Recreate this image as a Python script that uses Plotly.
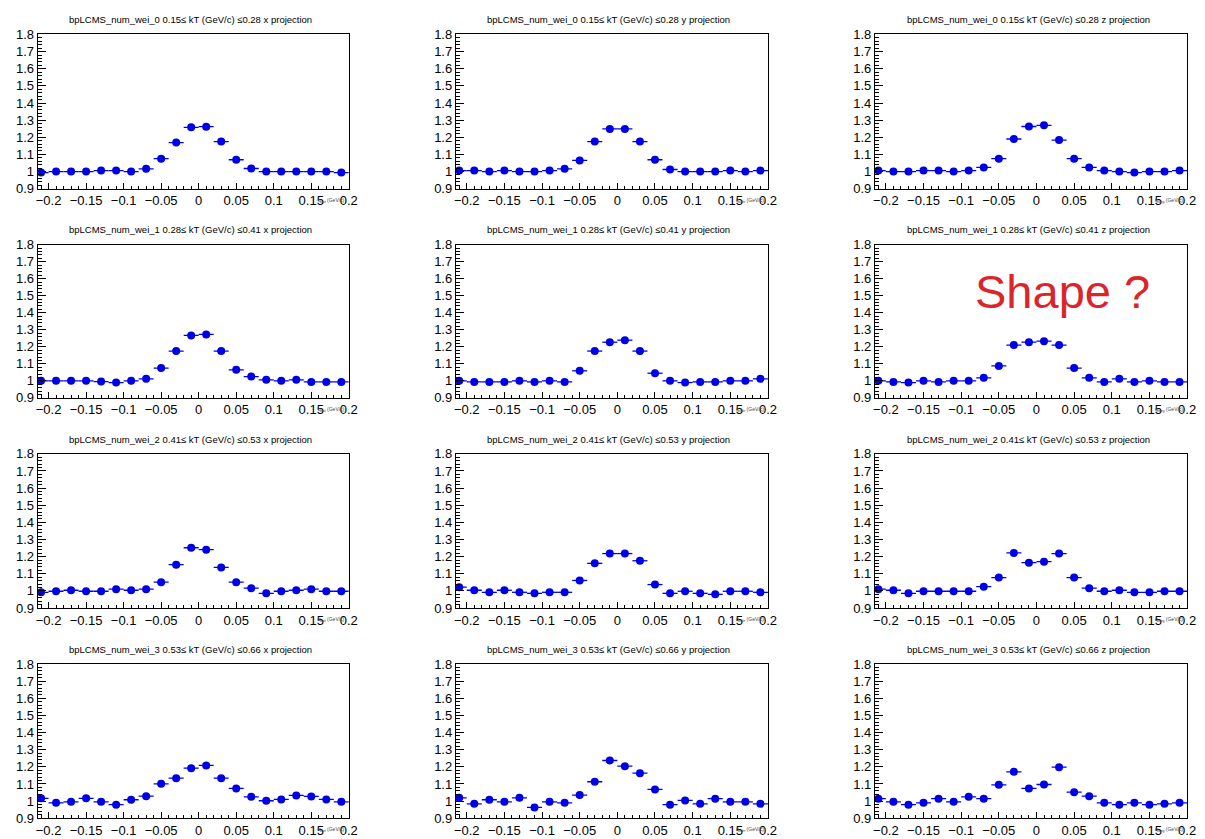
import plotly.graph_objects as go
from plotly.subplots import make_subplots

# ---------------- data ----------------
BIN_CENTERS = [-0.21, -0.19, -0.17, -0.15, -0.13, -0.11, -0.09, -0.07, -0.05, -0.03,
               -0.01, 0.01, 0.03, 0.05, 0.07, 0.09, 0.11, 0.13, 0.15, 0.17, 0.19]
BIN_HALF_WIDTH = 0.01

KT_LOW = ["0.15", "0.28", "0.41", "0.53"]
KT_HIGH = ["0.28", "0.41", "0.53", "0.66"]
PROJECTIONS = ["x", "y", "z"]
AXIS_TITLES = ["q<sub>out</sub> (GeV/c)", "q<sub>side</sub> (GeV/c)", "q<sub>long</sub> (GeV/c)"]

kt0_x = [0.994, 1.0, 1.0, 1.0, 1.006, 1.006, 1.0, 1.016, 1.075, 1.169, 1.258,
         1.262, 1.175, 1.069, 1.018, 1.0, 1.0, 1.0, 1.0, 1.0, 0.994]
kt0_y = [1.006, 1.006, 1.0, 1.006, 1.0, 1.0, 1.006, 1.016, 1.065, 1.175, 1.249,
         1.249, 1.175, 1.069, 1.012, 1.0, 1.0, 1.0, 1.006, 1.0, 1.006]
kt0_z = [1.006, 1.0, 1.0, 1.006, 1.006, 1.0, 1.006, 1.024, 1.075, 1.190, 1.263,
         1.270, 1.184, 1.075, 1.024, 1.006, 1.0, 0.994, 1.0, 1.0, 1.006]

kt1_x = [1.0, 1.0, 1.0, 1.0, 0.996, 0.99, 1.0, 1.012, 1.075, 1.175, 1.267,
         1.273, 1.175, 1.065, 1.025, 1.006, 1.0, 1.006, 0.994, 0.994, 0.994]
kt1_y = [1.0, 0.994, 0.994, 0.994, 1.0, 0.994, 1.0, 0.994, 1.059, 1.175, 1.227,
         1.239, 1.175, 1.045, 1.0, 0.99, 0.994, 0.994, 1.0, 1.0, 1.012]
kt1_z = [1.0, 0.994, 0.99, 1.0, 0.994, 1.0, 1.0, 1.018, 1.088, 1.210, 1.227,
         1.233, 1.210, 1.075, 1.018, 0.994, 1.012, 0.994, 1.0, 0.994, 0.994]

kt2_x = [0.992, 0.998, 1.004, 0.998, 0.998, 1.01, 1.004, 1.01, 1.051, 1.153, 1.252,
         1.241, 1.137, 1.051, 1.016, 0.986, 0.998, 1.004, 1.01, 0.998, 0.998]
kt2_y = [1.022, 1.004, 0.992, 1.004, 0.992, 0.986, 0.992, 0.992, 1.061, 1.161, 1.218,
         1.218, 1.176, 1.037, 0.986, 0.998, 0.986, 0.98, 0.998, 0.998, 0.992]
kt2_z = [1.01, 1.004, 0.986, 0.998, 0.998, 0.998, 0.998, 1.025, 1.078, 1.222, 1.165,
         1.171, 1.218, 1.078, 1.016, 0.998, 1.004, 0.992, 0.992, 0.998, 0.998]

kt3_x = [1.016, 0.99, 0.996, 1.016, 0.996, 0.979, 1.008, 1.029, 1.101, 1.134, 1.192,
         1.208, 1.134, 1.074, 1.025, 1.002, 1.01, 1.033, 1.027, 1.01, 0.996]
kt3_y = [1.019, 0.984, 1.008, 0.996, 1.019, 0.963, 0.996, 0.99, 1.035, 1.113, 1.237,
         1.204, 1.163, 1.068, 0.979, 1.004, 0.984, 1.014, 0.996, 0.996, 0.984]
kt3_z = [1.014, 0.996, 0.979, 0.99, 1.014, 0.996, 1.025, 1.014, 1.095, 1.171, 1.074,
         1.097, 1.198, 1.052, 1.029, 0.99, 0.979, 0.99, 0.979, 0.984, 0.99]

ROW_ERRORS = [0.004, 0.005, 0.007, 0.011]

PANELS = [[kt0_x, kt0_y, kt0_z],
          [kt1_x, kt1_y, kt1_z],
          [kt2_x, kt2_y, kt2_z],
          [kt3_x, kt3_y, kt3_z]]

# ---------------- layout geometry ----------------
W, H = 1205, 839
COL_PX = [(36, 350), (458, 773), (881, 1196)]
ROW_PX = [(28, 185), (242, 398), (455, 612), (669, 826)]

BLUE = "#0000e6"
FONT = "Liberation Sans, Arial, Helvetica, sans-serif"

fig = make_subplots(rows=4, cols=3)

annotations = []
for r in range(4):
    for c in range(3):
        yvals = PANELS[r][c]
        fig.add_trace(
            go.Scatter(
                x=BIN_CENTERS, y=yvals, mode="markers",
                marker=dict(symbol="circle", size=8, color=BLUE),
                error_x=dict(type="constant", value=BIN_HALF_WIDTH, color=BLUE,
                             thickness=1.3, width=0),
                error_y=dict(type="constant", value=ROW_ERRORS[r], color=BLUE,
                             thickness=1.3, width=0),
                showlegend=False, hoverinfo="x+y",
            ),
            row=r + 1, col=c + 1,
        )
        idx = r * 3 + c + 1
        xa = "xaxis" if idx == 1 else f"xaxis{idx}"
        ya = "yaxis" if idx == 1 else f"yaxis{idx}"
        x0, x1 = COL_PX[c]
        y0, y1 = ROW_PX[r]
        fig.layout[xa].update(
            domain=[x0 / W, x1 / W], range=[-0.2145, 0.2],
            showgrid=False, zeroline=False,
            showline=True, linecolor="black", linewidth=1, mirror=True,
            ticks="inside", ticklen=6, tickcolor="black", tickwidth=1,
            tickmode="array",
            tickvals=[-0.2, -0.15, -0.1, -0.05, 0, 0.05, 0.1, 0.15, 0.2],
            ticktext=["\u22120.2", "\u22120.15", "\u22120.1", "\u22120.05", "0",
                      "0.05", "0.1", "0.15", "0.2"],
            minor=dict(ticks="inside", ticklen=3, tickcolor="black",
                       tickmode="linear", tick0=0, dtick=0.01, showgrid=False),
            tickfont=dict(family=FONT, size=13, color="black"),
            fixedrange=True,
        )
        fig.layout[ya].update(
            domain=[1 - y1 / H, 1 - y0 / H], range=[0.9, 1.8],
            showgrid=False, zeroline=False,
            showline=True, linecolor="black", linewidth=1, mirror=True,
            ticks="inside", ticklen=8, tickcolor="black", tickwidth=1,
            tickmode="linear", tick0=0.9, dtick=0.1,
            minor=dict(ticks="inside", ticklen=4, tickcolor="black",
                       tickmode="linear", tick0=0.9, dtick=0.02, showgrid=False),
            tickfont=dict(family=FONT, size=13, color="black"),
            fixedrange=True,
        )
        # panel title
        title = (f"bpLCMS_num_wei_{r} {KT_LOW[r]}\u2264 kT (GeV/c) \u2264{KT_HIGH[r]} "
                 f"{PROJECTIONS[c]} projection")
        annotations.append(dict(
            text=title, xref="paper", yref="paper",
            x=((x0 + x1) / 2 - 3) / W, y=1 - (y0 - 15) / H,
            xanchor="center", yanchor="middle", showarrow=False,
            font=dict(family=FONT, size=9.5, color="black"),
        ))
        # tiny axis title
        annotations.append(dict(
            text=AXIS_TITLES[c], xref="paper", yref="paper",
            x=(x1 - 2) / W, y=1 - (y1 + 6) / H,
            xanchor="right", yanchor="top", showarrow=False,
            font=dict(family=FONT, size=5, color="#444444"),
        ))

annotations.append(dict(
    text="Shape ?", xref="paper", yref="paper",
    x=1070 / W, y=1 - 290 / H, xanchor="center", yanchor="middle",
    showarrow=False, font=dict(family=FONT, size=47, color="#d9262b"),
))

fig.update_layout(
    width=W, height=H, margin=dict(l=0, r=0, t=0, b=0),
    paper_bgcolor="white", plot_bgcolor="white",
    annotations=annotations, showlegend=False,
    font=dict(family=FONT),
)

fig.write_html("out.html")
